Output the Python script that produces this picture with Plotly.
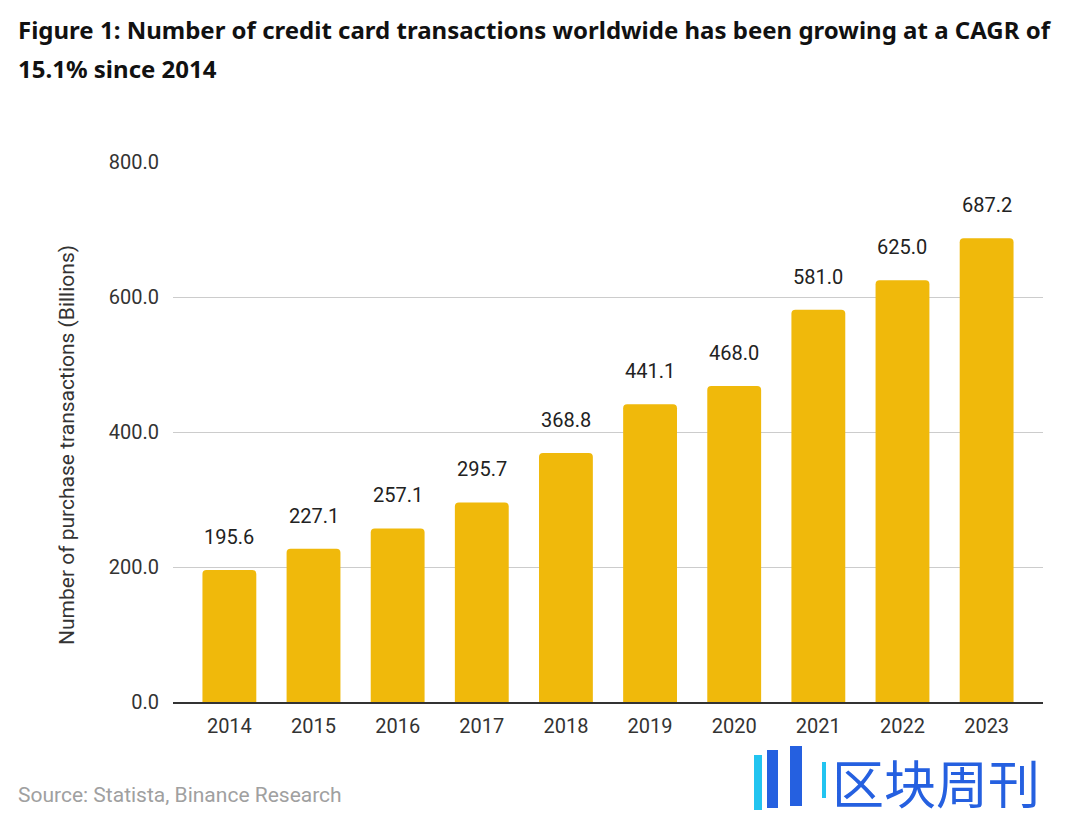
import plotly.graph_objects as go

years = ["2014", "2015", "2016", "2017", "2018", "2019", "2020", "2021", "2022", "2023"]
transactions = [195.6, 227.1, 257.1, 295.7, 368.8, 441.1, 468.0, 581.0, 625.0, 687.2]
y_ticks = [0, 200, 400, 600, 800]

title_line1 = "Figure 1: Number of credit card transactions worldwide has been growing at a CAGR of"
title_line2 = "15.1% since 2014"
y_title = "Number of purchase transactions (Billions)"
source_text = "Source: Statista, Binance Research"
watermark = "区块周刊"

# page geometry (the page body has an 8px margin)
OFF = 8
PL, PR, PT, PB = 173, 1043, 162, 702
PW, PH = PR - PL, PB - PT


def px(x):
    return (x - PL) / PW


def py(y):
    return (PB - y) / PH


fig = go.Figure()
fig.add_trace(go.Bar(
    x=years, y=transactions,
    marker=dict(color="#F0B90B", cornerradius=4, line=dict(width=0)),
    width=0.64,
    hoverinfo="x+y",
))

for i, v in enumerate(transactions):
    fig.add_annotation(x=i, y=v, text=f"{v:.1f}", showarrow=False,
                       yanchor="middle", yshift=33,
                       font=dict(family="Roboto, Arial, sans-serif", size=20, color="#222"))

title_font = dict(family="Noto Sans, sans-serif", size=24, color="#111")
fig.add_annotation(xref="paper", yref="paper", x=px(16), y=py(29),
                   xanchor="left", yanchor="middle", text=f"<b>{title_line1}</b>",
                   showarrow=False, font=title_font)
fig.add_annotation(xref="paper", yref="paper", x=px(16), y=py(69),
                   xanchor="left", yanchor="middle", text=f"<b>{title_line2}</b>",
                   showarrow=False, font=title_font)
fig.add_annotation(xref="paper", yref="paper", x=px(67), y=py(445),
                   xanchor="center", yanchor="middle", textangle=-90, text=y_title,
                   showarrow=False,
                   font=dict(family="Roboto, Arial, sans-serif", size=21, color="#333"))
fig.add_annotation(xref="paper", yref="paper", x=px(16), y=py(795),
                   xanchor="left", yanchor="middle", text=source_text, showarrow=False,
                   font=dict(family="Roboto, Arial, sans-serif", size=21, color="#a0a0a0"))
fig.add_annotation(xref="paper", yref="paper", x=px(936), y=py(781),
                   xanchor="center", yanchor="middle", text=watermark, showarrow=False,
                   font=dict(family="Noto Sans CJK SC, sans-serif", size=52, color="#2560e0"))


def rect(x0, y0, x1, y1, color):
    fig.add_shape(type="rect", xref="paper", yref="paper",
                  x0=px(x0), x1=px(x1), y0=py(y1), y1=py(y0),
                  fillcolor=color, line=dict(width=0), layer="above")


# simple logo marks of the watermark
rect(754, 755, 762, 810, "#22c4f0")
rect(767, 750, 778, 808, "#2560e0")
rect(790, 746, 802, 806, "#2560e0")
rect(822, 762, 826, 798, "#22c4f0")

fig.update_layout(
    width=1072, height=816,
    margin=dict(l=PL - OFF, r=1072 - (PR - OFF), t=PT - OFF, b=816 - (PB - OFF)),
    paper_bgcolor="white", plot_bgcolor="white",
    showlegend=False,
    font=dict(family="Roboto, Arial, sans-serif", size=20, color="#333"),
    xaxis=dict(type="category", range=[-0.67, 9.67], showgrid=False,
               showline=True, linecolor="#333", linewidth=1.5,
               ticks="", tickfont=dict(size=20, color="#333"), ticklabelstandoff=5),
    yaxis=dict(range=[0, 800], tickvals=y_ticks, tickformat=".1f",
               showgrid=True, gridcolor="#cccccc", gridwidth=1,
               zeroline=False, showline=False, ticks="",
               ticklabelstandoff=13,
               tickfont=dict(size=20, color="#333")),
)

fig.write_html("out.html")
